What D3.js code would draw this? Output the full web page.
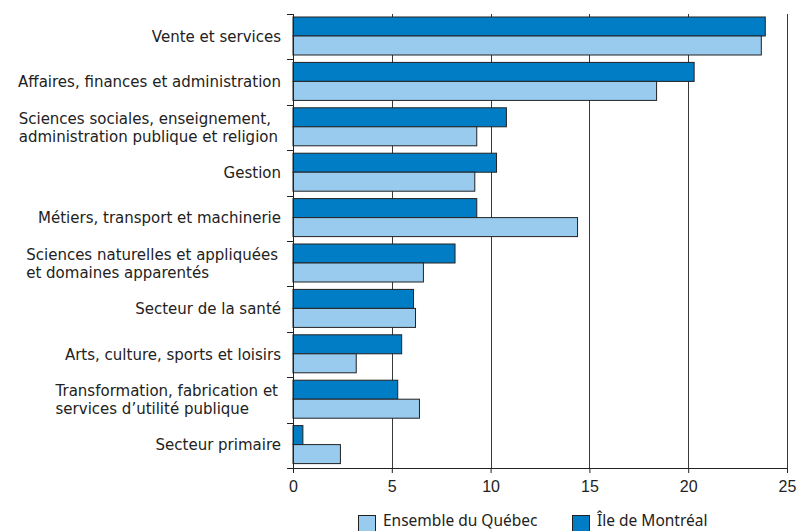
<!DOCTYPE html>
<html>
<head>
<meta charset="utf-8">
<script src="https://cdn.jsdelivr.net/npm/d3@7"></script>
<style>
  html, body { margin: 0; padding: 0; background: #fff; }
  svg { display: block; }
</style>
</head>
<body>
<svg id="chart" width="809" height="531"></svg>
<script>
const categories = [
  ["Vente et services"],
  ["Affaires, finances et administration"],
  ["Sciences sociales, enseignement,", "administration publique et religion"],
  ["Gestion"],
  ["Métiers, transport et machinerie"],
  ["Sciences naturelles et appliquées", "et domaines apparentés"],
  ["Secteur de la santé"],
  ["Arts, culture, sports et loisirs"],
  ["Transformation, fabrication et", "services d’utilité publique"],
  ["Secteur primaire"]
];
const seriesNames = ["Île de Montréal", "Ensemble du Québec"];
const montreal = [23.9, 20.3, 10.8, 10.3, 9.3, 8.2, 6.1, 5.5, 5.3, 0.5];
const quebec   = [23.7, 18.4, 9.3, 9.2, 14.4, 6.6, 6.2, 3.2, 6.4, 2.4];
const xTicks = [0, 5, 10, 15, 20, 25];
const legendOrder = ["Ensemble du Québec", "Île de Montréal"];

const colors = { "Île de Montréal": "#007dc5", "Ensemble du Québec": "#98cbee" };

const svg = d3.select("#chart");
const pLeft = 293, pRight = 787, pTop = 14, pBottom = 468;

const x = d3.scaleLinear().domain([0, 25]).range([pLeft, pRight]);
const catIdx = d3.range(categories.length);
const y = d3.scaleBand().domain(catIdx).range([pTop, pBottom]).paddingInner(0).paddingOuter(0);
const ySub = d3.scaleBand().domain(seriesNames).range([3, y.bandwidth() - 4.4]);

// gridlines
svg.append("g").selectAll("line").data(xTicks.slice(1)).join("line")
  .attr("x1", d => Math.round(x(d)) + 0.5).attr("x2", d => Math.round(x(d)) + 0.5)
  .attr("y1", pTop).attr("y2", pBottom)
  .attr("stroke", "#3a3a3a").attr("stroke-width", 1);

// bars
const values = { "Île de Montréal": montreal, "Ensemble du Québec": quebec };
const gBars = svg.append("g");
seriesNames.forEach(s => {
  gBars.append("g").selectAll("rect").data(values[s]).join("rect")
    .attr("x", x(0))
    .attr("y", (d, i) => y(i) + ySub(s))
    .attr("width", d => x(d) - x(0))
    .attr("height", ySub.bandwidth())
    .attr("fill", colors[s])
    .attr("stroke", "#222")
    .attr("stroke-width", 1);
});

// y axis line + ticks at band boundaries
const yAxisG = svg.append("g");
yAxisG.append("line").attr("x1", pLeft + 0.5).attr("x2", pLeft + 0.5)
  .attr("y1", pTop).attr("y2", pBottom).attr("stroke", "#222");
const bounds = catIdx.map(i => y(i)).concat([pBottom]);
yAxisG.selectAll("line.t").data(bounds).join("line").attr("class", "t")
  .attr("x1", pLeft - 6).attr("x2", pLeft)
  .attr("y1", d => Math.round(d) + 0.5).attr("y2", d => Math.round(d) + 0.5)
  .attr("stroke", "#222");

// x axis
const xAxis = d3.axisBottom(x).tickValues(xTicks).tickSize(5).tickSizeOuter(0).tickPadding(8);
const xg = svg.append("g").attr("transform", `translate(0,${pBottom})`).call(xAxis);
xg.select(".domain").attr("stroke", "#222");
xg.selectAll(".tick line").attr("stroke", "#222");
xg.selectAll(".tick text")
  .attr("font-family", "'Liberation Sans', Arial, sans-serif")
  .attr("font-size", 16).attr("fill", "#222");

// category labels
const labG = svg.append("g")
  .attr("font-family", "'DejaVu Sans', sans-serif")
  .attr("font-size", 15).attr("fill", "#222");
categories.forEach((lines, i) => {
  const cy = y(i) + y.bandwidth() / 2;
  const t = labG.append("text");
  const n = lines.length;
  lines.forEach((ln, j) => {
    t.append("tspan").attr("y", cy + 5 + (j - (n - 1) / 2) * 18).text(ln);
  });
  let maxW = 0;
  t.selectAll("tspan").each(function() { maxW = Math.max(maxW, this.getComputedTextLength()); });
  const xr = n > 1 ? 278 : 281;
  t.selectAll("tspan").attr("x", xr - maxW);
});

// legend
const legX = [358, 572];
const leg = svg.append("g");
legendOrder.forEach((s, i) => {
  leg.append("rect").attr("x", legX[i] + 0.5).attr("y", 515.5)
    .attr("width", 17).attr("height", 17)
    .attr("fill", colors[s]).attr("stroke", "#222");
  leg.append("text").attr("x", legX[i] + 25).attr("y", 526)
    .attr("font-family", "'Noto Sans', sans-serif").attr("font-size", 15.5)
    .attr("fill", "#222").text(s);
});
</script>
</body>
</html>
